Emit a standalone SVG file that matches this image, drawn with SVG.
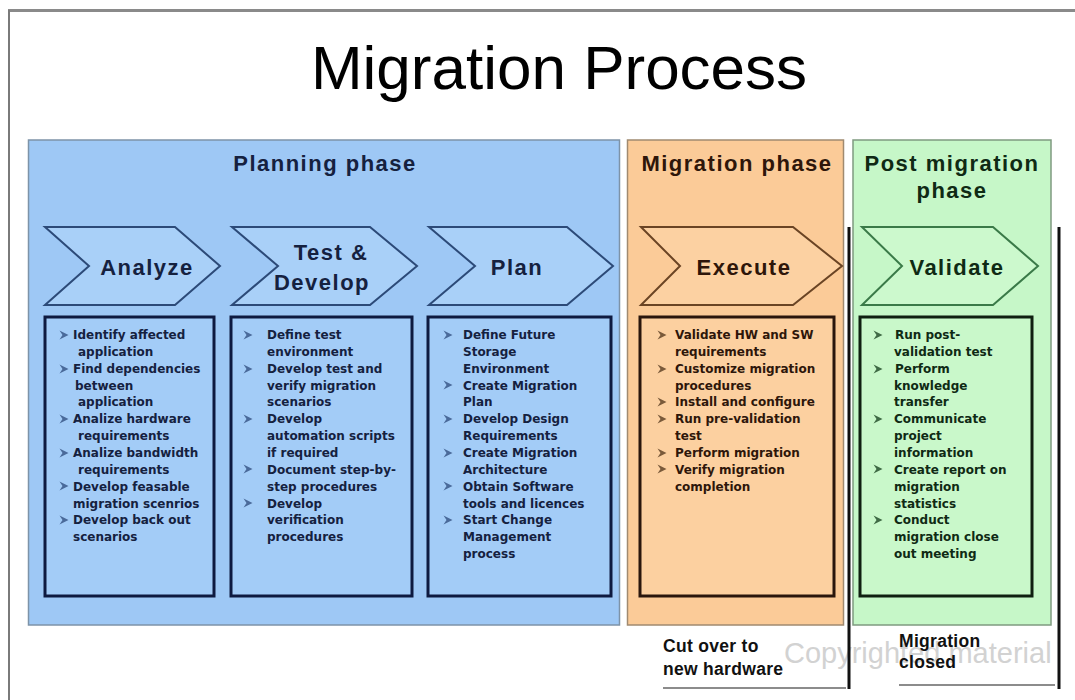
<svg xmlns="http://www.w3.org/2000/svg" xmlns:xlink="http://www.w3.org/1999/xlink" width="1075" height="700" viewBox="0 0 1075 700">
  <style>
    .title { font-family: "Liberation Sans", Arial, sans-serif; font-size: 62px; fill: #000; }
    .phase { font-family: "Liberation Sans", Arial, sans-serif; font-size: 22px; font-weight: bold; letter-spacing: 1.5px; text-anchor: middle; }
    .step { font-family: "Liberation Sans", Arial, sans-serif; font-size: 22px; font-weight: bold; letter-spacing: 1.5px; text-anchor: middle; }
    .item { font-family: "DejaVu Sans", Verdana, sans-serif; font-size: 12px; font-weight: bold; }
    .note { font-family: "Liberation Sans", Arial, sans-serif; font-size: 17.5px; font-weight: bold; letter-spacing: 0.3px; fill: #111; }
    .mark { font-family: "Liberation Sans", Arial, sans-serif; font-size: 29px; fill: #d2d2d2; }
    .blue .panel { fill: #9ec8f5; stroke: #7d93a8; stroke-width: 1.5; }
    .blue .chev { fill: #a9d0f8; stroke: #2c4a78; stroke-width: 2; }
    .blue .box { fill: #a3ccf7; stroke: #0e1a40; stroke-width: 3; }
    .blue text { fill: #15213f; }
    .blue .bul { fill: #4a6a9a; }
    .orange .panel { fill: #fbcb98; stroke: #a08a70; stroke-width: 1.5; }
    .orange .chev { fill: #fcd1a2; stroke: #6a4424; stroke-width: 2; }
    .orange .box { fill: #fcd0a0; stroke: #2a160c; stroke-width: 3; }
    .orange text { fill: #2e160a; }
    .orange .bul { fill: #7a5a3a; }
    .green .panel { fill: #c6f7c8; stroke: #7f9a80; stroke-width: 1.5; }
    .green .chev { fill: #ccf9cd; stroke: #3a7a48; stroke-width: 2; }
    .green .box { fill: #c9f8ca; stroke: #0f1f10; stroke-width: 3; }
    .green text { fill: #0f2a14; }
    .green .bul { fill: #3f6a45; }
    .milestone { stroke: #111; stroke-width: 3; }
    .rule { stroke: #666; stroke-width: 1.5; }
  </style>
  <defs>
    <!-- small arrowhead used as list bullet -->
    <path id="bullet" d="M-4.5,-4.5 L4.5,0 L-4.5,4.5 L-1.5,0 Z"/>
  </defs>

  <rect x="0" y="0" width="1075" height="700" fill="#fff"/>
  <!-- slide frame -->
  <g id="frame" fill="none">
    <line x1="8" y1="10.5" x2="1075" y2="10.5" stroke="#8a8a8a" stroke-width="3"/>
    <line x1="9" y1="10" x2="9" y2="700" stroke="#7a7a7a" stroke-width="2"/>
  </g>

  <text id="title" class="title" x="559" y="89" text-anchor="middle">Migration Process</text>

  <!-- ===== Planning phase ===== -->
  <g id="planning-phase" class="blue">
    <rect class="panel" x="28.5" y="140" width="591" height="485"/>
    <text class="phase" x="325" y="171">Planning phase</text>

    <g id="step-analyze">
      <polygon class="chev" points="45,227 175,227 220,266 175,305 45,305 89,266"/>
      <text class="step" x="147" y="275">Analyze</text>
    </g>
    <g id="step-test-develop">
      <polygon class="chev" points="232,227 370,227 417,266 370,305 232,305 278,266"/>
      <text class="step" x="331" y="260">Test &amp;</text>
      <text class="step" x="322" y="290">Develop</text>
    </g>
    <g id="step-plan">
      <polygon class="chev" points="429,227 567,227 613,266 567,305 429,305 475,266"/>
      <text class="step" x="517" y="275">Plan</text>
    </g>

    <g id="tasks-analyze">
      <rect class="box" x="45" y="317" width="169" height="279"/>
      <g class="bul">
        <use xlink:href="#bullet" x="64" y="335"/>
        <use xlink:href="#bullet" x="64" y="369"/>
        <use xlink:href="#bullet" x="64" y="419"/>
        <use xlink:href="#bullet" x="64" y="453"/>
        <use xlink:href="#bullet" x="64" y="486"/>
        <use xlink:href="#bullet" x="64" y="520"/>
      </g>
      <text class="item">
        <tspan x="73" y="339">Identify affected</tspan>
        <tspan x="78" dy="16.85">application</tspan>
        <tspan x="73" dy="16.85">Find dependencies</tspan>
        <tspan x="75" dy="16.85">between</tspan>
        <tspan x="78" dy="16.85">application</tspan>
        <tspan x="73" dy="16.85">Analize hardware</tspan>
        <tspan x="78" dy="16.85">requirements</tspan>
        <tspan x="73" dy="16.85">Analize bandwidth</tspan>
        <tspan x="78" dy="16.85">requirements</tspan>
        <tspan x="73" dy="16.85">Develop feasable</tspan>
        <tspan x="73" dy="16.85">migration scenrios</tspan>
        <tspan x="73" dy="16.85">Develop back out</tspan>
        <tspan x="73" dy="16.85">scenarios</tspan>
      </text>
    </g>

    <g id="tasks-test-develop">
      <rect class="box" x="231" y="317" width="181" height="279"/>
      <g class="bul">
        <use xlink:href="#bullet" x="248" y="335"/>
        <use xlink:href="#bullet" x="248" y="369"/>
        <use xlink:href="#bullet" x="248" y="419"/>
        <use xlink:href="#bullet" x="248" y="469"/>
        <use xlink:href="#bullet" x="248" y="503"/>
      </g>
      <text class="item">
        <tspan x="267" y="339">Define test</tspan>
        <tspan x="267" dy="16.85">environment</tspan>
        <tspan x="267" dy="16.85">Develop test and</tspan>
        <tspan x="267" dy="16.85">verify migration</tspan>
        <tspan x="267" dy="16.85">scenarios</tspan>
        <tspan x="267" dy="16.85">Develop</tspan>
        <tspan x="267" dy="16.85">automation scripts</tspan>
        <tspan x="267" dy="16.85">if required</tspan>
        <tspan x="267" dy="16.85">Document step-by-</tspan>
        <tspan x="267" dy="16.85">step procedures</tspan>
        <tspan x="267" dy="16.85">Develop</tspan>
        <tspan x="267" dy="16.85">verification</tspan>
        <tspan x="267" dy="16.85">procedures</tspan>
      </text>
    </g>

    <g id="tasks-plan">
      <rect class="box" x="428" y="317" width="183" height="279"/>
      <g class="bul">
        <use xlink:href="#bullet" x="448" y="335"/>
        <use xlink:href="#bullet" x="448" y="385"/>
        <use xlink:href="#bullet" x="448" y="419"/>
        <use xlink:href="#bullet" x="448" y="453"/>
        <use xlink:href="#bullet" x="448" y="486"/>
        <use xlink:href="#bullet" x="448" y="520"/>
      </g>
      <text class="item">
        <tspan x="463" y="339">Define Future</tspan>
        <tspan x="463" dy="16.85">Storage</tspan>
        <tspan x="463" dy="16.85">Environment</tspan>
        <tspan x="463" dy="16.85">Create Migration</tspan>
        <tspan x="463" dy="16.85">Plan</tspan>
        <tspan x="463" dy="16.85">Develop Design</tspan>
        <tspan x="463" dy="16.85">Requirements</tspan>
        <tspan x="463" dy="16.85">Create Migration</tspan>
        <tspan x="463" dy="16.85">Architecture</tspan>
        <tspan x="463" dy="16.85">Obtain Software</tspan>
        <tspan x="463" dy="16.85">tools and licences</tspan>
        <tspan x="463" dy="16.85">Start Change</tspan>
        <tspan x="463" dy="16.85">Management</tspan>
        <tspan x="463" dy="16.85">process</tspan>
      </text>
    </g>
  </g>

  <!-- ===== Migration phase ===== -->
  <g id="migration-phase" class="orange">
    <rect class="panel" x="627.5" y="140" width="216" height="485"/>
    <text class="phase" x="737" y="171">Migration phase</text>

    <g id="step-execute">
      <polygon class="chev" points="641,227 793,227 842,266 793,305 641,305 680,266"/>
      <text class="step" x="744" y="275">Execute</text>
    </g>

    <g id="tasks-execute">
      <rect class="box" x="640" y="317" width="194" height="279"/>
      <g class="bul">
        <use xlink:href="#bullet" x="662" y="335"/>
        <use xlink:href="#bullet" x="662" y="369"/>
        <use xlink:href="#bullet" x="662" y="402"/>
        <use xlink:href="#bullet" x="662" y="419"/>
        <use xlink:href="#bullet" x="662" y="453"/>
        <use xlink:href="#bullet" x="662" y="469"/>
      </g>
      <text class="item">
        <tspan x="675" y="339">Validate HW and SW</tspan>
        <tspan x="675" dy="16.85">requirements</tspan>
        <tspan x="675" dy="16.85">Customize migration</tspan>
        <tspan x="675" dy="16.85">procedures</tspan>
        <tspan x="675" dy="16.85">Install and configure</tspan>
        <tspan x="675" dy="16.85">Run pre-validation</tspan>
        <tspan x="675" dy="16.85">test</tspan>
        <tspan x="675" dy="16.85">Perform migration</tspan>
        <tspan x="675" dy="16.85">Verify migration</tspan>
        <tspan x="675" dy="16.85">completion</tspan>
      </text>
    </g>
  </g>

  <!-- ===== Post migration phase ===== -->
  <g id="post-migration-phase" class="green">
    <rect class="panel" x="853" y="140" width="198" height="485"/>
    <text class="phase" x="952" y="171">Post migration</text>
    <text class="phase" x="952" y="198">phase</text>

    <g id="step-validate">
      <polygon class="chev" points="862,227 993,227 1038,266 993,305 862,305 902,266"/>
      <text class="step" x="957" y="275">Validate</text>
    </g>

    <g id="tasks-validate">
      <rect class="box" x="860" y="317" width="172" height="279"/>
      <g class="bul">
        <use xlink:href="#bullet" x="878" y="335"/>
        <use xlink:href="#bullet" x="878" y="369"/>
        <use xlink:href="#bullet" x="878" y="419"/>
        <use xlink:href="#bullet" x="878" y="469"/>
        <use xlink:href="#bullet" x="878" y="520"/>
      </g>
      <text class="item">
        <tspan x="895" y="339">Run post-</tspan>
        <tspan x="894" dy="16.85">validation test</tspan>
        <tspan x="895" dy="16.85">Perform</tspan>
        <tspan x="894" dy="16.85">knowledge</tspan>
        <tspan x="894" dy="16.85">transfer</tspan>
        <tspan x="894" dy="16.85">Communicate</tspan>
        <tspan x="894" dy="16.85">project</tspan>
        <tspan x="894" dy="16.85">information</tspan>
        <tspan x="894" dy="16.85">Create report on</tspan>
        <tspan x="894" dy="16.85">migration</tspan>
        <tspan x="894" dy="16.85">statistics</tspan>
        <tspan x="894" dy="16.85">Conduct</tspan>
        <tspan x="894" dy="16.85">migration close</tspan>
        <tspan x="894" dy="16.85">out meeting</tspan>
      </text>
    </g>
  </g>

  <!-- watermark -->
  <text class="mark" x="784" y="663">Copyrighted material</text>

  <!-- milestone markers -->
  <g id="connectors">
    <line class="milestone" x1="849" y1="227" x2="849" y2="689"/>
    <line class="milestone" x1="1059" y1="227" x2="1059" y2="689"/>
    <line class="rule" x1="663" y1="688" x2="846" y2="688"/>
    <line class="rule" x1="899" y1="685" x2="1055" y2="685"/>
  </g>

  <g id="milestone-cutover">
    <text class="note" x="663" y="652">Cut over to</text>
    <text class="note" x="663" y="675">new hardware</text>
  </g>
  <g id="milestone-closed">
    <text class="note" x="899" y="647">Migration</text>
    <text class="note" x="899" y="668">closed</text>
  </g>
</svg>
